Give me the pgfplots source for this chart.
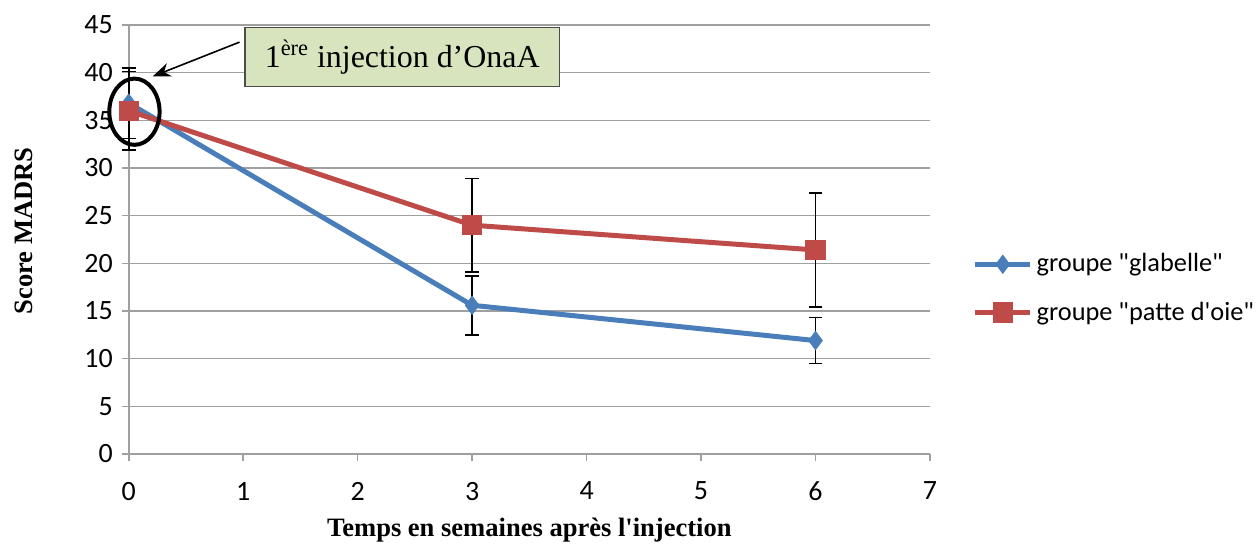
\documentclass[border=0pt]{standalone}
\usepackage{fontspec}
\setmainfont{Liberation Serif}
\newfontfamily\calibri{Carlito}
\usepackage{pgfplots}
\pgfplotsset{compat=1.18}
\usetikzlibrary{arrows.meta}
\definecolor{xlblue}{HTML}{4A7EBB}
\definecolor{xlred}{HTML}{BE4B48}
\definecolor{xlgreen}{HTML}{D7E4BD}
\definecolor{xlgrid}{HTML}{A0A0A0}
\begin{document}
\begin{tikzpicture}
\path (-64.5pt,-43.5pt) rectangle (564.5pt,227.5pt);
\begin{axis}[
  at={(0pt,0pt)}, anchor=origin,
  scale only axis, width=401.5pt, height=215pt,
  xmin=0, xmax=7, ymin=0, ymax=45,
  xtick={0,...,7}, ytick={0,5,...,45},
  axis x line=bottom, axis y line=left,
  axis line style={draw=xlgrid, line width=0.8pt, -},
  ymajorgrids, grid style={xlgrid, line width=0.8pt},
  tick align=outside, major tick length=3.5pt,
  tick style={xlgrid, line width=0.8pt},
  tick label style={font=\calibri\fontsize{14}{16}\selectfont},
  xticklabel style={yshift=-7pt},
  yticklabel style={xshift=-1pt},
  /pgf/number format/assume math mode=true,
  xlabel={Temps en semaines après l\textquotesingle injection},
  ylabel={Score MADRS},
  label style={font=\bfseries\fontsize{13.3}{15}\selectfont},
  xlabel style={at={(axis description cs:0.5,-0.177)}, anchor=center},
  ylabel style={at={(axis description cs:-0.1308,0.52)}, anchor=center},
  clip=false,
  legend style={at={(1.053,0.386)}, anchor=west, draw=none, fill=none,
    font=\calibri\fontsize{13.2}{15.5}\selectfont, row sep=9.5pt,
    inner sep=0pt},
  legend cell align=left,
  legend image code/.code={%
    \draw[#1, mark repeat=2, mark phase=2] plot coordinates {(0pt,0pt) (13.75pt,0pt) (27.5pt,0pt)};},
  every axis plot/.append style={
    error bars/y dir=both, error bars/y explicit,
    error bars/error bar style={black, line width=0.8pt, solid},
    error bars/error mark options={rotate=90, mark size=3.5pt, black, line width=0.8pt},
  },
]
\addplot[xlblue, line width=2.5pt, mark=diamond*, mark size=4.5pt, mark options={solid, fill=xlblue, draw=xlblue, line width=0.5pt}]
  coordinates {(0,36.8) +- (0,3.7) (3,15.6) +- (0,3.1) (6,11.9) +- (0,2.4)};
\addlegendentry{groupe "glabelle"}
\addplot[xlred, line width=2.5pt, mark=square*, mark size=4.8pt, mark options={solid, fill=xlred, draw=xlred, line width=0.5pt}]
  coordinates {(0,36.0) +- (0,4.1) (3,24.0) +- (0,4.9) (6,21.4) +- (0,6.0)};
\addlegendentry{groupe "patte d'oie"}
\draw[black, line width=2pt] (axis cs:0.05,35.9) ellipse [x radius=12.6pt, y radius=16.6pt];
\draw[-{Stealth[length=9pt,width=7pt]}, black, line width=0.8pt] (axis cs:0.968,43.2) -- (axis cs:0.209,39.6);
\node[draw=black!70, fill=xlgreen, line width=0.6pt, minimum width=157.5pt, minimum height=29.5pt, anchor=south west, inner sep=0pt,
  font=\fontsize{16}{19}\selectfont] at (axis cs:1.011,38.46) {1\textsuperscript{ère} injection d’OnaA};
\end{axis}
\end{tikzpicture}
\end{document}
